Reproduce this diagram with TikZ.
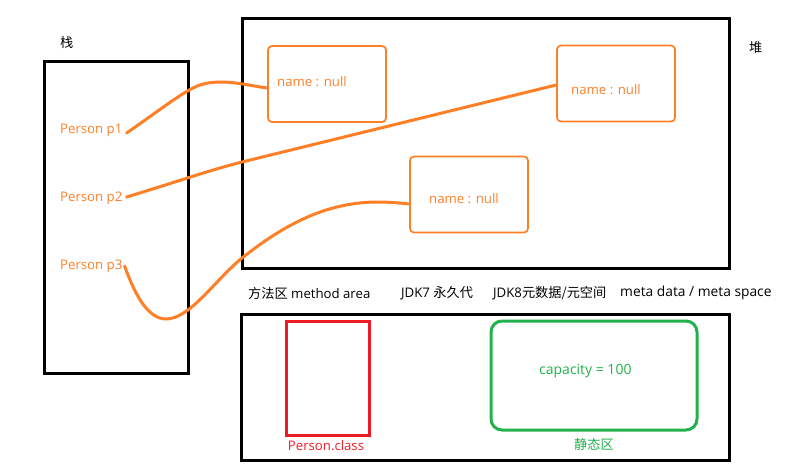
\documentclass[tikz,border=0pt]{standalone}
\usepackage{fontspec}
\setmainfont{Open Sans}
\newfontfamily\cjk{Noto Sans CJK SC}
\usepackage{tikz}
\usetikzlibrary{positioning,calc}
\definecolor{objorange}{RGB}{255,127,39}
\definecolor{classred}{RGB}{237,28,36}
\definecolor{staticgreen}{RGB}{34,177,76}
\tikzset{
area/.style = {draw, line width=3pt, rectangle, inner sep=0pt},
obj/.style = {draw=objorange, line width=1.7pt, rectangle, rounded corners=4pt, minimum width=118pt, minimum height=76pt, inner sep=0pt},
txt/.style = {font=\fontsize{13.2}{15}\selectfont, inner sep=0pt, anchor=west},
ref/.style = {objorange, line width=3pt, line cap=round},
tmp/.style = {coordinate}
}

\begin{document}
\begin{tikzpicture}[x=1pt, y=-1pt]
  \useasboundingbox (0,0) rectangle (798,469);
  \node [area, minimum width=144pt, minimum height=312pt] (stack) at (116,217)   {};
  \node [area, minimum width=487pt, minimum height=250pt] (heap)  at (485.5,143) {};
  \node [area, minimum width=488pt, minimum height=146pt] (meta)  at (485,387)   {};

  \node [obj] (obja) at (327,84)    {};
  \node [obj] (objb) at (616,83.5)  {};
  \node [obj] (objc) at (469,194.5) {};
  \node [txt, text=objorange] (namea) at (277,81.5) {name : null};
  \node [txt, text=objorange] (nameb) at (571,89.5) {name : null};
  \node [txt, text=objorange] (namec) at (429,198.5) {name : null};

  \node [txt] (stacktitle) at (60,42) {\cjk 栈};
  \node [txt] (heaptitle)  at (749,48) {\cjk 堆};
  \node [txt, text=objorange] (p1) at (60,130) {Person p1};
  \node [txt, text=objorange] (p2) at (60,198) {Person p2};
  \node [txt, text=objorange] (p3) at (60,266) {Person p3};

  \node [txt] (methodarea) at (248,293) {{\cjk 方法区} method area};
  \node [txt] (jdkseven)   at (401,293) {JDK7 {\cjk 永久代}};
  \node [txt] (jdkeight)   at (493,293) {JDK8{\cjk 元数据/元空间}};
  \node [txt, font=\fontsize{13.8}{15}\selectfont] (metaspace)  at (620,293) {meta data / meta space};

  \node [draw=classred, line width=3pt, minimum width=83pt, minimum height=114pt, inner sep=0pt] (classbox) at (327.5,378) {};
  \node [txt, text=classred, anchor=north, xshift=-1.5pt] (classname) [below=4pt of classbox] {Person.class};
  \node [draw=staticgreen, line width=3pt, rounded corners=11pt, minimum width=206pt, minimum height=109pt, inner sep=0pt] (staticbox) at (594,375.5) {};
  \node [txt, text=staticgreen, font=\fontsize{14}{15}\selectfont] (capacity) at (539,371) {capacity = 100};
  \node [txt, text=staticgreen, anchor=north] (staticname) [below=7pt of staticbox] {\cjk 静态区};

  \coordinate (p1out) at ($(p1.east)+(4,3)$);
  \coordinate (p2out) at ($(p2.east)+(4,-1)$);
  \coordinate (p3out) at ($(p3.east)+(2,0)$);

  \draw [ref] (p1out) .. controls (160,110) and (185,90) .. (200,85) .. controls (222,78) and (245,85) .. (obja.west |- 0,88);
  \draw [ref] (p2out) .. controls (170,184) and (210,170) .. (242,162) -- (objb.west |- 0,85);
  \draw [ref] (p3out) .. controls (135,295) and (148,319) .. (166,319) .. controls (190,319) and (215,280) .. (242,258) .. controls (290,220) and (330,203) .. (375,202) .. controls (390,202) and (400,203) .. (objc.west |- 0,204);
\end{tikzpicture}
\end{document}
